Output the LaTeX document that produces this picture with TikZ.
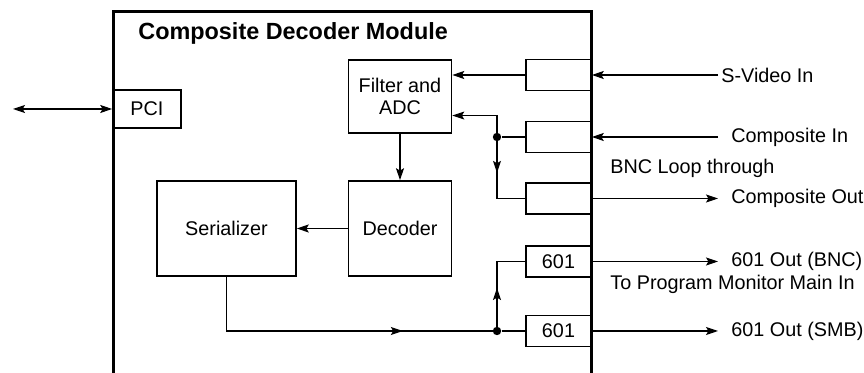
\documentclass[tikz,border=0pt]{standalone}
\usepackage{fontspec}
\setmainfont{Liberation Sans}
\usepackage{tikz}
\usetikzlibrary{arrows.meta,positioning,decorations.markings}

\begin{document}
\begin{tikzpicture}[
  x=0.5pt,y=-0.5pt,
  font=\fontsize{9.9}{11}\selectfont,
  block/.style={draw,line width=0.8pt,align=center,inner sep=1pt},
  port/.style={draw,line width=0.8pt,minimum width=32.5pt,minimum height=15.5pt,inner sep=0pt},
  lbl/.style={anchor=west,inner sep=0pt},
  arrow/.style={-{Stealth[length=6pt,width=4pt,inset=1.2pt]},line width=0.55pt},
  wire/.style={line width=0.55pt},
  midarrow/.style={postaction={decorate,decoration={markings,mark=at position #1 with {\arrow{Stealth[length=6pt,width=4pt,inset=1.2pt]}}}}},
  dot/.style={circle,fill,inner sep=0pt,minimum size=4.2pt}
]
\useasboundingbox (0,0) rectangle (864,373);
% module outline, open at the bottom
\draw[line width=1.5pt] (113,373) -- (113,12) -- (591,12) -- (591,373);
\node[lbl,font=\fontsize{11.7}{13}\selectfont\bfseries] (title) at (138,33) {Composite Decoder Module};

\node[block,minimum width=34pt,minimum height=19pt] (pci) at (147,109) {PCI};
\node[block,minimum width=51.5pt,minimum height=36.5pt] (filter) at (400,96.5) {Filter and\\ADC};
\node[block,minimum width=51.5pt,minimum height=47.5pt] (dec) at (400,228.5) {Decoder};
\node[block,minimum width=69.5pt,minimum height=47.5pt] (ser) at (226.5,228.5) {Serializer};

\node[port] (svid) at (558.5,75) {};
\node[port] (cin) at (558.5,137) {};
\node[port] (cout) at (558.5,198.5) {};
\node[port] (bnc) at (558.5,261.5) {601};
\node[port] (smb) at (558.5,331) {601};

\coordinate (host) at (13,109);
\coordinate (svidext) at (718,75);
\coordinate (cinext) at (718,137);
\coordinate (coutext) at (718,198.5);
\coordinate (bncext) at (718,261.5);
\coordinate (smbext) at (718,331);
\node[dot] (jin) at (497,137) {};
\node[dot] (jout) at (497,331) {};

\node[lbl] (svidtxt) at (721,75) {S-Video In};
\node[lbl] (cintxt) at (731,137) {Composite In};
\node[lbl] (looptxt) at (610,168) {BNC Loop through};
\node[lbl] (couttxt) at (731,198.5) {Composite Out};
\node[lbl] (bnctxt) at (731,261.5) {601 Out (BNC)};
\node[lbl] (montxt) at (610,284) {To Program Monitor Main In};
\node[lbl] (smbtxt) at (731,331) {601 Out (SMB)};

\draw[arrow,{Stealth[length=6pt,width=4pt,inset=1.2pt]}-{Stealth[length=6pt,width=4pt,inset=1.2pt]}] (host) -- (pci.west);
\draw[arrow] (svidext) -- (svid.east);
\draw[arrow] (cinext) -- (cin.east);
\draw[arrow] (cout.east) -- (coutext);
\draw[arrow] (bnc.east) -- (bncext);
\draw[arrow] (smb.east) -- (smbext);

\draw[arrow] (svid.west) -- (svid.west -| filter.east);
\draw[wire] (cin.west) -- (jin);
\draw[arrow] (jin.center) |- (filter.-20);
\draw[wire,midarrow=0.40] (jin.center) |- (cout.west);
\draw[arrow] (filter.south) -- (dec.north);
\draw[arrow] (dec.west) -- (ser.east);
\draw[wire,midarrow=0.71] (ser.south) |- (jout.center);
\draw[wire] (jout) -- (smb.west);
\draw[wire,midarrow=0.44] (jout.center) |- (bnc.west);
\end{tikzpicture}
\end{document}
